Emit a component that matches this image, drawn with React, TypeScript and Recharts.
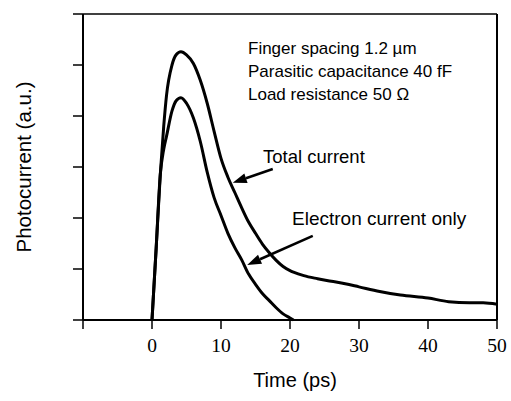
import React from "react";
import { LineChart, Line, XAxis, YAxis, ReferenceLine } from "recharts";

// time axis (ps) and the two photocurrent traces (a.u.)
const timePs = [
  0, 0.6, 1.2, 1.7, 2.1, 2.9, 3.5, 4.2, 5, 6, 7, 8, 9, 10, 11, 12, 13, 14, 15,
  16, 17, 18, 19, 20, 20.5, 22, 24, 26, 28, 30, 33, 36, 40, 43, 46, 48, 50,
];
const totalCurrent = [
  0, 1.4, 2.85, 3.8, 4.4, 5.0, 5.2, 5.26, 5.2, 5.03, 4.7, 4.25, 3.7, 3.17, 2.8,
  2.5, 2.2, 1.92, 1.7, 1.49, 1.32, 1.17, 1.05, 0.97, 0.94, 0.87, 0.81, 0.76,
  0.71, 0.65, 0.56, 0.49, 0.43, 0.36, 0.34, 0.34, 0.31,
];
const electronCurrent = [
  0, 1.4, 2.85, 3.35, 3.6, 4.1, 4.3, 4.36, 4.25, 3.96, 3.5, 2.9, 2.4, 2.05, 1.7,
  1.42, 1.18, 0.9, 0.7, 0.52, 0.38, 0.24, 0.12, 0.04, 0,
];

const xTicks = [-10, 0, 10, 20, 30, 40, 50];
const yTicks = [0, 1, 2, 3, 4, 5, 6];

const notes = [
  "Finger spacing 1.2 \u00b5m",
  "Parasitic capacitance 40 fF",
  "Load resistance 50 \u03a9",
];

const data = timePs.map((t, i) => ({
  t,
  total: totalCurrent[i],
  electron: i < electronCurrent.length ? electronCurrent[i] : null,
}));

const SANS = "'Liberation Sans', Arial, Helvetica, sans-serif";
const SERIF = "'Liberation Serif', 'Times New Roman', serif";

// serif tick labels under the time axis; the -10 tick carries no label
const TimeTick = (props: any) => {
  const { x, y, payload } = props;
  if (!payload || payload.value < 0) return null;
  return (
    <text
      x={x}
      y={y + 13}
      textAnchor="middle"
      fontSize={19.5}
      fontFamily={SERIF}
      fill="#000"
    >
      {String(payload.value)}
    </text>
  );
};

const NoTick = () => null;

// line with a filled head at the second point
const Arrow = (props: any) => {
  const { x1, y1, x2, y2 } = props;
  const ang = Math.atan2(y2 - y1, x2 - x1);
  const len = 14;
  const half = 5;
  const bx = x2 - len * Math.cos(ang);
  const by = y2 - len * Math.sin(ang);
  const p1 = `${bx + half * Math.sin(ang)},${by - half * Math.cos(ang)}`;
  const p2 = `${bx - half * Math.sin(ang)},${by + half * Math.cos(ang)}`;
  return (
    <g>
      <line x1={x1} y1={y1} x2={bx} y2={by} stroke="#000" strokeWidth={2.5} />
      <polygon points={`${x2},${y2} ${p1} ${p2}`} fill="#000" />
    </g>
  );
};

export default function App() {
  return (
    <div
      style={{
        position: "absolute",
        left: 0,
        top: 0,
        width: 511,
        height: 401,
        background: "#fff",
      }}
    >
      <LineChart
        width={511}
        height={401}
        data={data}
        margin={{ top: 14, right: 14, left: 0, bottom: 0 }}
      >
        <XAxis
          dataKey="t"
          type="number"
          domain={[-10, 50]}
          ticks={xTicks}
          height={81}
          tickSize={9}
          tickMargin={10}
          axisLine={{ stroke: "#000", strokeWidth: 2 }}
          tickLine={{ stroke: "#000", strokeWidth: 1.5 }}
          tick={<TimeTick />}
        />
        <YAxis
          type="number"
          domain={[0, 6]}
          ticks={yTicks}
          width={83}
          tickSize={10}
          tick={<NoTick />}
          axisLine={{ stroke: "#000", strokeWidth: 2 }}
          tickLine={{ stroke: "#000", strokeWidth: 1.5 }}
        />
        <ReferenceLine y={6} stroke="#000" strokeWidth={1.5} />
        <ReferenceLine x={50} stroke="#000" strokeWidth={2} />

        <Line
          type="monotone"
          dataKey="total"
          stroke="#000"
          strokeWidth={3}
          dot={false}
          isAnimationActive={false}
        />
        <Line
          type="monotone"
          dataKey="electron"
          stroke="#000"
          strokeWidth={3}
          dot={false}
          isAnimationActive={false}
        />

        <ReferenceLine
          segment={[
            { x: 17.5, y: 2.96 },
            { x: 11.7, y: 2.69 },
          ]}
          shape={Arrow}
        />
        <ReferenceLine
          segment={[
            { x: 23.3, y: 1.65 },
            { x: 13.8, y: 1.08 },
          ]}
          shape={Arrow}
        />

        <g fontFamily={SANS} fill="#000">
          {notes.map((n, i) => (
            <text key={n} x={248} y={54 + i * 23} fontSize={17}>
              {n}
            </text>
          ))}
          <text x={263} y={163} fontSize={18.5}>
            Total current
          </text>
          <text x={292} y={225} fontSize={19}>
            Electron current only
          </text>
          <text x={295} y={387} fontSize={20} textAnchor="middle">
            Time (ps)
          </text>
          <text
            x={0}
            y={0}
            fontSize={20.5}
            textAnchor="middle"
            transform="translate(31 167) rotate(-90)"
          >
            Photocurrent (a.u.)
          </text>
        </g>
      </LineChart>
    </div>
  );
}
